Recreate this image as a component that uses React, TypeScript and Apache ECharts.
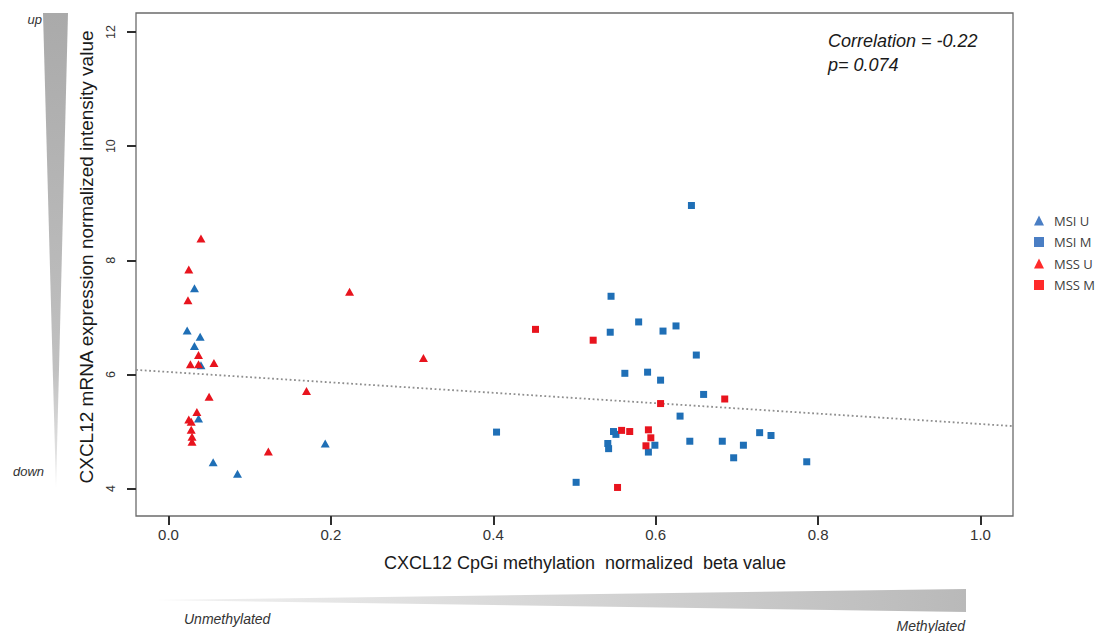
import React, { useEffect, useRef } from "react";
import * as echarts from "echarts";

// Axis ticks
const xTicks = [0, 0.2, 0.4, 0.6, 0.8, 1.0];
const yTicks = [4, 6, 8, 10, 12];

// Series values: [methylation beta value, mRNA expression]
const msiU = [
  [0.032, 7.51], [0.023, 6.77], [0.039, 6.66], [0.032, 6.5], [0.04, 6.16],
  [0.037, 5.23], [0.055, 4.46], [0.085, 4.26], [0.193, 4.79],
];
const msiM = [
  [0.644, 8.96], [0.545, 7.37], [0.579, 6.92], [0.625, 6.85], [0.544, 6.74],
  [0.609, 6.76], [0.65, 6.34], [0.562, 6.02], [0.59, 6.04], [0.606, 5.9],
  [0.63, 5.27], [0.548, 5.0], [0.551, 4.95], [0.599, 4.76], [0.591, 4.64],
  [0.541, 4.79], [0.542, 4.7], [0.642, 4.83], [0.502, 4.11], [0.404, 4.99],
  [0.659, 5.65], [0.682, 4.83], [0.708, 4.76], [0.728, 4.98], [0.742, 4.93],
  [0.696, 4.54], [0.786, 4.47],
];
const mssU = [
  [0.04, 8.38], [0.025, 7.84], [0.024, 7.3], [0.037, 6.34], [0.027, 6.18],
  [0.037, 6.18], [0.056, 6.2], [0.05, 5.61], [0.035, 5.34], [0.025, 5.21],
  [0.028, 5.17], [0.028, 5.03], [0.029, 4.91], [0.029, 4.82], [0.123, 4.65],
  [0.223, 7.45], [0.314, 6.29], [0.17, 5.71],
];
const mssM = [
  [0.452, 6.79], [0.523, 6.6], [0.606, 5.49], [0.558, 5.02], [0.568, 5.0],
  [0.591, 5.03], [0.594, 4.89], [0.588, 4.75], [0.553, 4.02], [0.685, 5.57],
];
// Regression line end points
const trendLine = [
  [-0.04, 6.08],
  [1.04, 5.095],
];

const seriesNames = ["MSI U", "MSI M", "MSS U", "MSS M"];
const correlationText = "Correlation = -0.22";
const pText = "p= 0.074";

const BLUE = "#1f6fb6";
const RED = "#e8141e";
const FONT = '"Liberation Sans", Arial, sans-serif';

export default function App() {
  const ref = useRef<HTMLDivElement>(null);
  useEffect(() => {
    document.body.style.margin = "0";
    const chart = echarts.init(ref.current!, null, { renderer: "svg" });
    chart.setOption({
      animation: false,
      backgroundColor: "#ffffff",
      grid: {
        left: 136,
        right: 83,
        top: 13,
        bottom: 117,
        show: true,
        borderColor: "#6b6b6b",
        borderWidth: 1.3,
      },
      xAxis: {
        type: "value",
        position: "bottom",
        min: -0.04,
        max: 1.04,
        splitLine: { show: false },
        axisLine: { show: false, onZero: false },
        axisTick: {
          show: true,
          inside: false,
          length: 9,
          customValues: xTicks,
          lineStyle: { color: "#2e2e2e", width: 2 },
        },
        axisLabel: {
          show: true,
          customValues: xTicks,
          formatter: (v: number) => v.toFixed(1),
          fontSize: 15,
          color: "#333",
          margin: 11,
          fontFamily: FONT,
        },
      },
      yAxis: {
        type: "value",
        position: "left",
        min: 3.52,
        max: 12.333,
        splitLine: { show: false },
        axisLine: { show: false, onZero: false },
        axisTick: {
          show: true,
          inside: false,
          length: 9,
          customValues: yTicks,
          lineStyle: { color: "#2e2e2e", width: 2 },
        },
        axisLabel: {
          show: true,
          customValues: yTicks,
          rotate: 90,
          fontSize: 12.5,
          color: "#333",
          margin: 19,
          fontFamily: FONT,
        },
      },
      legend: {
        orient: "vertical",
        left: 1029,
        top: 209,
        itemWidth: 10,
        itemHeight: 10,
        itemGap: 8.5,
        textStyle: {
          fontSize: 13,
          color: "#404040",
          fontFamily: '"Open Sans", sans-serif',
          padding: [0, 0, 0, 5],
        },
        data: [
          { name: seriesNames[0], icon: "triangle", itemStyle: { color: "#4a7ec4", opacity: 1 } },
          { name: seriesNames[1], icon: "rect", itemStyle: { color: "#4a7ec4", opacity: 1 } },
          { name: seriesNames[2], icon: "triangle", itemStyle: { color: "#ff2a2a", opacity: 1 } },
          { name: seriesNames[3], icon: "rect", itemStyle: { color: "#ff2a2a", opacity: 1 } },
        ],
      },
      series: [
        {
          type: "line",
          name: "trend",
          data: trendLine,
          symbol: "none",
          silent: true,
          z: 1,
          lineStyle: { color: "#8e8e8e", width: 1.8, type: [1.8, 2.6] },
        },
        { type: "scatter", name: seriesNames[0], data: msiU, symbol: "triangle", symbolSize: [9, 8], itemStyle: { color: BLUE, opacity: 1 }, z: 3 },
        { type: "scatter", name: seriesNames[1], data: msiM, symbol: "rect", symbolSize: 7, itemStyle: { color: BLUE, opacity: 1 }, z: 3 },
        { type: "scatter", name: seriesNames[2], data: mssU, symbol: "triangle", symbolSize: [9, 8], itemStyle: { color: RED, opacity: 1 }, z: 4 },
        { type: "scatter", name: seriesNames[3], data: mssM, symbol: "rect", symbolSize: 7, itemStyle: { color: RED, opacity: 1 }, z: 4 },
      ],
      graphic: [
        {
          type: "polygon",
          shape: { points: [[43, 13], [68, 13], [56, 488]] },
          style: {
            fill: new echarts.graphic.LinearGradient(0, 0, 0, 1, [
              { offset: 0, color: "#aaaaaa" },
              { offset: 0.75, color: "#c0c0c0" },
              { offset: 1, color: "#eeeeee" },
            ]),
          },
          silent: true,
        },
        {
          type: "polygon",
          shape: { points: [[156, 600], [966, 589], [966, 612]] },
          style: {
            fill: new echarts.graphic.LinearGradient(0, 0, 1, 0, [
              { offset: 0, color: "#f2f2f2" },
              { offset: 1, color: "#b9b9b9" },
            ]),
          },
          silent: true,
        },
        { type: "text", x: 42, y: 19, style: { text: "up", font: "italic 13px " + FONT, fill: "#333", align: "right", verticalAlign: "middle" } },
        { type: "text", x: 44, y: 471, style: { text: "down", font: "italic 13px " + FONT, fill: "#333", align: "right", verticalAlign: "middle" } },
        { type: "text", x: 184, y: 619, style: { text: "Unmethylated", font: "italic 14px " + FONT, fill: "#333", align: "left", verticalAlign: "middle" } },
        { type: "text", x: 965, y: 626, style: { text: "Methylated", font: "italic 14px " + FONT, fill: "#333", align: "right", verticalAlign: "middle" } },
        {
          type: "text",
          x: 585,
          y: 563,
          style: { text: "CXCL12 CpGi methylation  normalized  beta value", font: "18px " + FONT, fill: "#1a1a1a", align: "center", verticalAlign: "middle" },
        },
        {
          type: "text",
          x: 86,
          y: 257,
          rotation: Math.PI / 2,
          style: { text: "CXCL12 mRNA expression normalized intensity value", font: "19px " + FONT, fill: "#1a1a1a", align: "center", verticalAlign: "middle" },
        },
        { type: "text", x: 828, y: 41, style: { text: correlationText, font: "italic 18px " + FONT, fill: "#1a1a1a", align: "left", verticalAlign: "middle" } },
        { type: "text", x: 828, y: 65, style: { text: pText, font: "italic 18px " + FONT, fill: "#1a1a1a", align: "left", verticalAlign: "middle" } },
      ],
    });
    return () => chart.dispose();
  }, []);
  return <div ref={ref} style={{ width: 1096, height: 633 }} />;
}
